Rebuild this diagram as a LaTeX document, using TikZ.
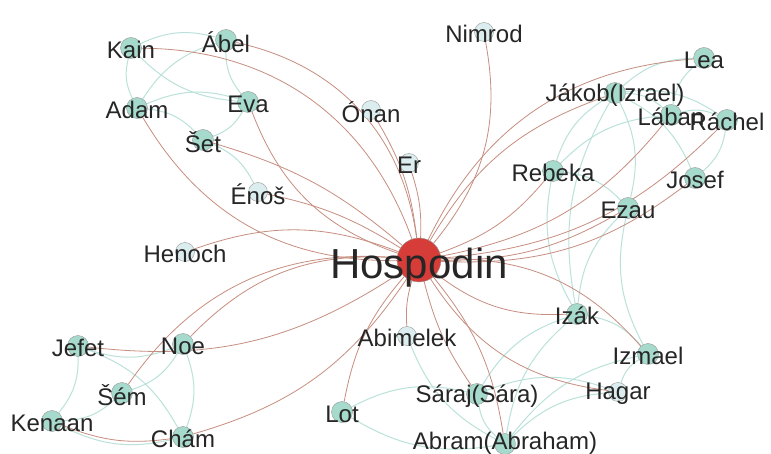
\documentclass[tikz,border=0pt]{standalone}
\usepackage{fontspec}
\setmainfont{Liberation Sans}
\usetikzlibrary{backgrounds}
\definecolor{NodeTeal}{RGB}{166,218,204}
\definecolor{NodePale}{RGB}{220,237,239}
\definecolor{NodeRed}{RGB}{214,60,56}
\definecolor{EdgeBrown}{RGB}{198,142,128}
\definecolor{EdgeTeal}{RGB}{186,226,218}

\begin{document}
\begin{tikzpicture}[x=1pt,y=-1pt,
nd/.style={circle,draw=gray!80,thin,fill=NodeTeal,minimum size=21pt,inner sep=0},
pale/.style={nd,fill=NodePale,minimum size=19pt},
hub/.style={nd,fill=NodeRed,minimum size=44pt},
lb/.style={anchor=base,yshift=-2pt,inner sep=0,font=\fontsize{24}{28}\selectfont,text=black!85},
he/.style={draw=EdgeBrown,line width=0.8pt},
te/.style={draw=EdgeTeal,line width=1pt}]

\useasboundingbox (0,0) rectangle (771,454);

% people
\node[hub,label={[lb,yshift=-6pt,font=\fontsize{42}{48}\selectfont]center:Hospodin}] (hosp) at (419,260) {};
\node[nd,label={[lb]center:Kain}] (kain) at (131,48) {};
\node[nd,label={[lb]center:Ábel}] (abel) at (226,40) {};
\node[nd,label={[lb]center:Adam}] (adam) at (137,108) {};
\node[nd,label={[lb]center:Eva}] (eva) at (248,102) {};
\node[nd,label={[lb]center:Šet}] (set) at (203,140) {};
\node[pale,label={[lb]center:Énoš}] (enos) at (258,192) {};
\node[pale,label={[lb]center:Henoch}] (henoch) at (185,252) {};
\node[pale,label={[lb]center:Ónan}] (onan) at (371,110) {};
\node[pale,label={[lb]center:Er}] (er) at (409,163) {};
\node[pale,label={[lb]center:Nimrod}] (nimrod) at (484,32) {};
\node[nd,label={[lb]center:Jákob(Izrael)}] (jakob) at (615,93) {};
\node[nd,label={[lb]center:Lea}] (lea) at (704,58) {};
\node[nd,label={[lb]center:Lában}] (laban) at (671,115) {};
\node[nd,label={[lb]center:Ráchel}] (rachel) at (727,120) {};
\node[nd,label={[lb]center:Rebeka}] (rebeka) at (553,171) {};
\node[nd,label={[lb]center:Josef}] (josef) at (695,178) {};
\node[nd,label={[lb]center:Ezau}] (ezau) at (628,208) {};
\node[nd,label={[lb]center:Izák}] (izak) at (577,314) {};
\node[nd,label={[lb]center:Izmael}] (izmael) at (648,354) {};
\node[pale,label={[lb]center:Hagar}] (hagar) at (618,392) {};
\node[nd,label={[lb]center:Sáraj(Sára)}] (saraj) at (477,394) {};
\node[nd,label={[lb,yshift=3pt]center:Abram(Abraham)}] (abram) at (505,444) {};
\node[pale,label={[lb]center:Abimelek}] (abimelek) at (407,336) {};
\node[nd,label={[lb]center:Lot}] (lot) at (342,412) {};
\node[nd,label={[lb]center:Noe}] (noe) at (183,344) {};
\node[nd,label={[lb]center:Jefet}] (jefet) at (78,346) {};
\node[nd,label={[lb]center:Šém}] (sem) at (122,393) {};
\node[nd,label={[lb]center:Kenaan}] (kenaan) at (52,421) {};
\node[nd,label={[lb]center:Chám}] (cham) at (183,437) {};

\begin{scope}[on background layer]
\fill[white] (0,0) rectangle (771,454);

% family ties
\draw[te] (adam) to[bend left=20] (eva);
\draw[te] (adam) to[bend left=20] (kain);
\draw[te] (adam) to[bend left=20] (abel);
\draw[te] (adam) to[bend left=20] (set);
\draw[te] (eva) to[bend left=20] (kain);
\draw[te] (eva) to[bend left=20] (abel);
\draw[te] (eva) to[bend left=20] (set);
\draw[te] (kain) to[bend left=20] (abel);
\draw[te] (set) to[bend left=20] (enos);
\draw[te] (noe) to[bend left=20] (sem);
\draw[te] (noe) to[bend left=20] (cham);
\draw[te] (noe) to[bend left=20] (jefet);
\draw[te] (cham) to[bend left=20] (kenaan);
\draw[te] (jefet) to[bend left=20] (cham);
\draw[te] (jefet) to[bend left=20] (kenaan);
\draw[te] (sem) to[bend left=20] (kenaan);
\draw[te] (abram) to[bend left=20] (saraj);
\draw[te] (abram) to[bend left=20] (lot);
\draw[te] (abram) to[bend left=20] (hagar);
\draw[te] (abram) to[bend left=20] (izmael);
\draw[te] (abram) to[bend left=20] (izak);
\draw[te] (saraj) to[bend left=20] (izak);
\draw[te] (saraj) to[bend left=20] (hagar);
\draw[te] (abram) to[bend left=20] (abimelek);
\draw[te] (lot) to[bend left=20] (saraj);
\draw[te] (hagar) to[bend left=20] (izmael);
\draw[te] (izak) to[bend left=20] (izmael);
\draw[te] (izak) to[bend left=20] (rebeka);
\draw[te] (izak) to[bend left=20] (jakob);
\draw[te] (izak) to[bend left=20] (ezau);
\draw[te] (izmael) to[bend left=20] (ezau);
\draw[te] (rebeka) to[bend left=20] (jakob);
\draw[te] (rebeka) to[bend left=20] (ezau);
\draw[te] (rebeka) to[bend left=20] (laban);
\draw[te] (jakob) to[bend left=20] (ezau);
\draw[te] (jakob) to[bend left=20] (lea);
\draw[te] (jakob) to[bend left=20] (rachel);
\draw[te] (jakob) to[bend left=20] (laban);
\draw[te] (jakob) to[bend left=20] (josef);
\draw[te] (laban) to[bend left=20] (lea);
\draw[te] (laban) to[bend left=20] (rachel);
\draw[te] (rachel) to[bend left=20] (josef);

% ties to Hospodin
\draw[he] (kain) to[bend left=35] (hosp);
\draw[he] (abel) to[bend left=35] (hosp);
\draw[he] (adam) to[bend right=30] (hosp);
\draw[he] (eva) to[bend right=25] (hosp);
\draw[he] (set) to[bend left=12] (hosp);
\draw[he] (enos) to[bend left=10] (hosp);
\draw[he] (henoch) to[bend left=20] (hosp);
\draw[he] (onan) to[bend left=12] (hosp);
\draw[he] (er) to[bend left=10] (hosp);
\draw[he] (nimrod) to[bend left=25] (hosp);
\draw[he] (jakob) to[bend right=20] (hosp);
\draw[he] (lea) to[bend right=30] (hosp);
\draw[he] (rebeka) to[bend left=15] (hosp);
\draw[he] (laban) to[bend left=20] (hosp);
\draw[he] (rachel) to[bend left=20] (hosp);
\draw[he] (josef) to[bend left=20] (hosp);
\draw[he] (ezau) to[bend left=15] (hosp);
\draw[he] (izak) to[bend left=20] (hosp);
\draw[he] (izmael) to[bend right=25] (hosp);
\draw[he] (hagar) to[bend left=25] (hosp);
\draw[he] (saraj) to[bend left=10] (hosp);
\draw[he] (abram) to[bend right=15] (hosp);
\draw[he] (abimelek) to[bend left=10] (hosp);
\draw[he] (lot) to[bend left=15] (hosp);
\draw[he] (noe) to[bend left=25] (hosp);
\draw[he] (jefet) to[bend right=20] (hosp);
\draw[he] (sem) to[bend left=30] (hosp);
\draw[he] (cham) to[bend right=20] (hosp);
\draw[he] (kenaan) to[bend right=15] (cham);
\end{scope}

\end{tikzpicture}
\end{document}
